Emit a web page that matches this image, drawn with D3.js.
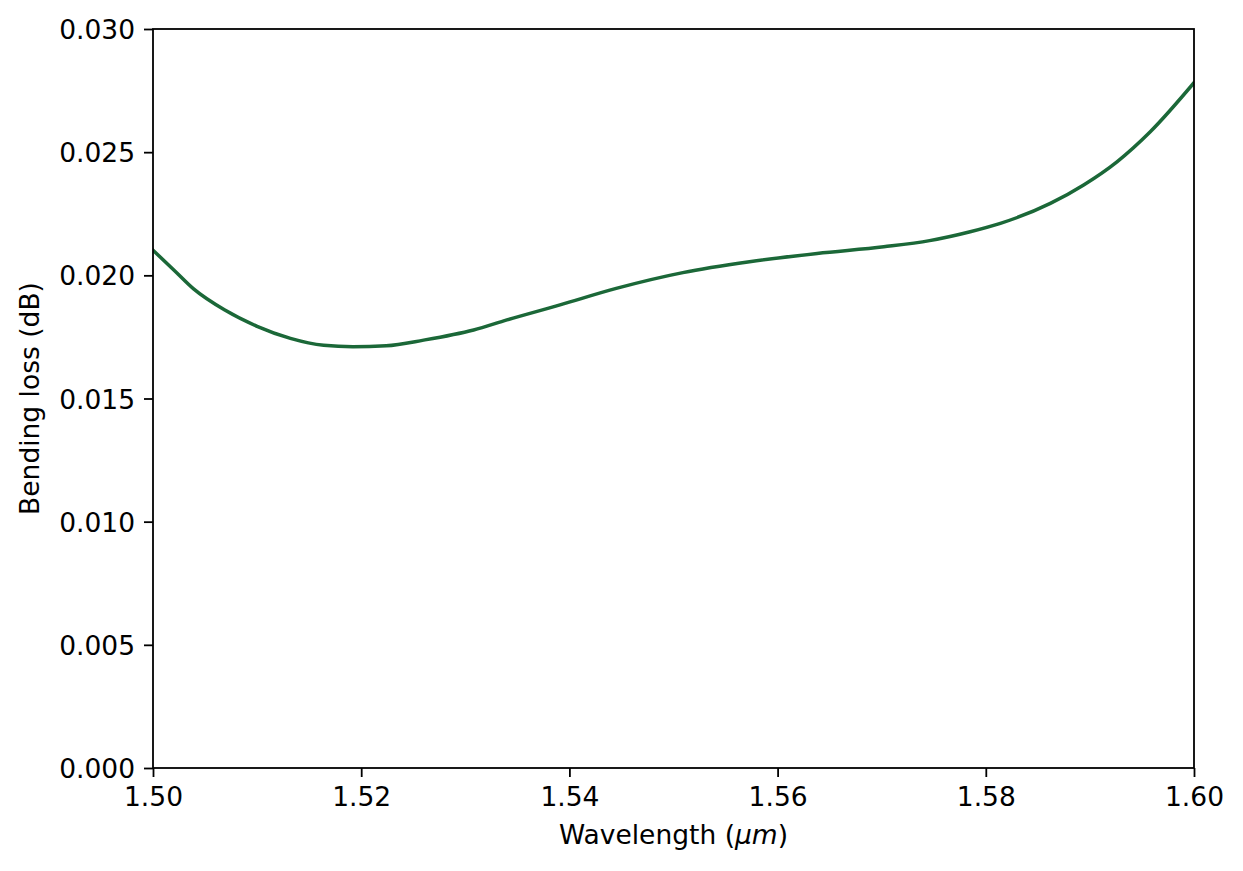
<!DOCTYPE html>
<html>
<head>
<meta charset="utf-8">
<script src="https://cdn.jsdelivr.net/npm/d3@7"></script>
<style>
  html, body { margin: 0; padding: 0; background: #fff; }
  svg { display: block; }
  text { font-family: "DejaVu Sans", sans-serif; fill: #000; }
</style>
</head>
<body>
<svg id="chart" width="1243" height="871"></svg>
<script>
// Data
const wavelength = [1.5000, 1.5020, 1.5039, 1.5069, 1.5100, 1.5132, 1.5164, 1.5192, 1.5224, 1.5260,
                    1.5308, 1.5340, 1.5391, 1.5445, 1.5509, 1.5573, 1.5638, 1.5702, 1.5746, 1.5785,
                    1.5814, 1.5862, 1.5894, 1.5926, 1.5958, 1.6000];
const bendingLoss = [0.02102, 0.02022, 0.01945, 0.01859, 0.01793, 0.01744, 0.01716, 0.01710, 0.01714, 0.01737,
                     0.01778, 0.01819, 0.01880, 0.01947, 0.02011, 0.02055, 0.02089, 0.02116, 0.02141, 0.02177,
                     0.02211, 0.02292, 0.02367, 0.02461, 0.02583, 0.02782];
const xTicks = [1.50, 1.52, 1.54, 1.56, 1.58, 1.60];
const yTicks = [0.000, 0.005, 0.010, 0.015, 0.020, 0.025, 0.030];
const xLabel = "Wavelength (";
const yLabel = "Bending loss (dB)";

const FS = 26.5;
const margin = { left: 153, top: 29, right: 1243 - 1194, bottom: 871 - 768 };
const W = 1243 - margin.left - margin.right;
const H = 871 - margin.top - margin.bottom;

const svg = d3.select("#chart");
const g = svg.append("g").attr("transform", `translate(${margin.left},${margin.top})`);

const x = d3.scaleLinear().domain([1.50, 1.60]).range([0, W]);
const y = d3.scaleLinear().domain([0, 0.030]).range([H, 0]);

const data = wavelength.map((w, i) => ({ w, v: bendingLoss[i] }));

svg.append("defs").append("clipPath").attr("id", "clip")
  .append("rect").attr("width", W).attr("height", H);

g.append("path")
  .datum(data)
  .attr("clip-path", "url(#clip)")
  .attr("fill", "none")
  .attr("stroke", "#1b6838")
  .attr("stroke-width", 3.5)
  .attr("stroke-linejoin", "round")
  .attr("stroke-linecap", "square")
  .attr("d", d3.line().x(d => x(d.w)).y(d => y(d.v)).curve(d3.curveMonotoneX));

// axes
const xAxis = d3.axisBottom(x).tickValues(xTicks).tickFormat(d3.format(".2f")).tickSize(9).tickPadding(9);
const yAxis = d3.axisLeft(y).tickValues(yTicks).tickFormat(d3.format(".3f")).tickSize(9).tickPadding(9);

const gx = g.append("g").attr("transform", `translate(0,${H})`).call(xAxis);
const gy = g.append("g").call(yAxis);

[gx, gy].forEach(a => {
  a.select(".domain").remove();
  a.selectAll(".tick line").attr("stroke", "#000").attr("stroke-width", 1.8);
  a.selectAll(".tick text").attr("font-size", FS).attr("font-family", "DejaVu Sans").attr("fill", "#000");
});
gx.selectAll(".tick text").attr("dy", "0.74em");
gy.selectAll(".tick text").attr("dy", "0.36em");

// frame (spines)
g.append("rect").attr("width", W).attr("height", H)
  .attr("fill", "none").attr("stroke", "#000").attr("stroke-width", 1.8);

// axis labels
const xl = svg.append("text")
  .attr("x", margin.left + W / 2).attr("y", 844)
  .attr("text-anchor", "middle").attr("font-size", FS);
xl.append("tspan").text(xLabel);
xl.append("tspan").attr("font-style", "italic").text("μm");
xl.append("tspan").text(")");

svg.append("text")
  .attr("transform", `translate(39,${margin.top + H / 2}) rotate(-90)`)
  .attr("text-anchor", "middle").attr("font-size", FS)
  .text(yLabel);
</script>
</body>
</html>
